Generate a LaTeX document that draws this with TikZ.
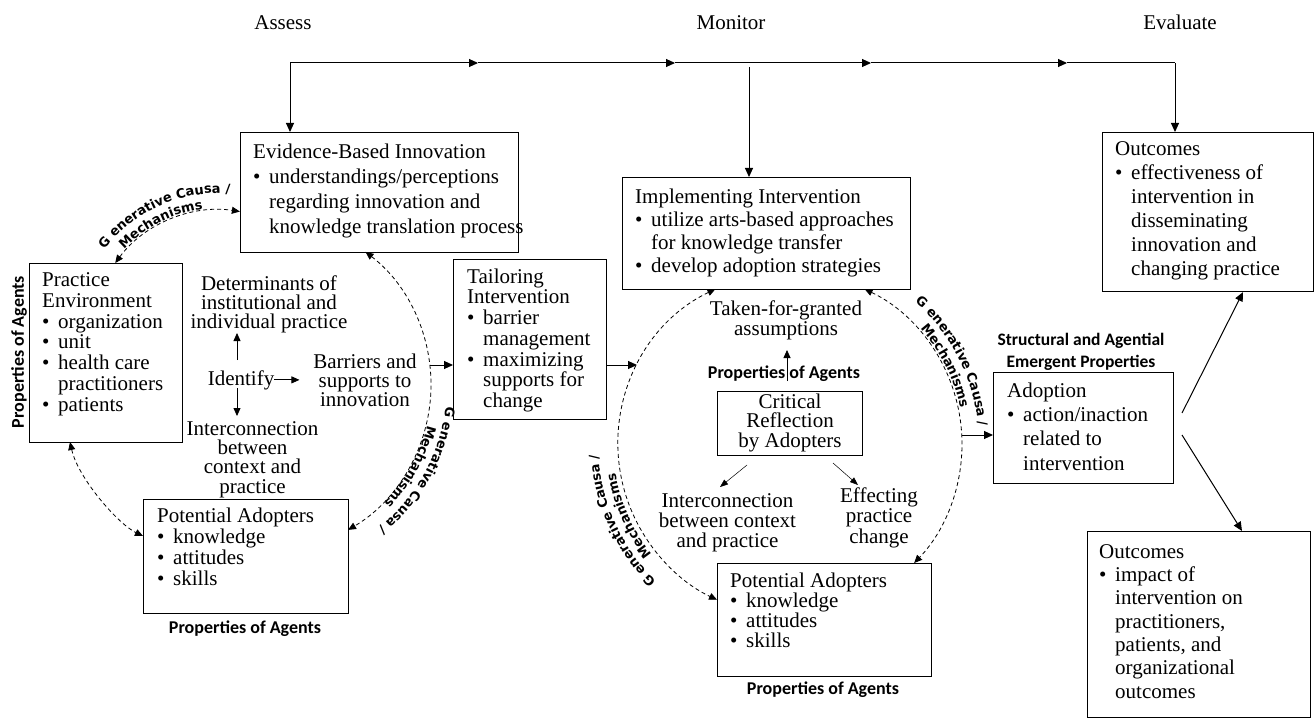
\documentclass[tikz,border=0pt]{standalone}
\usepackage{fontspec}
\setmainfont{Liberation Serif}
\newfontfamily\calfont{Carlito}
\newfontfamily\dvfont{DejaVu Sans}
\usetikzlibrary{arrows.meta,decorations.text}
\newcommand\bul{\makebox[16pt][l]{\textbullet}}
\newcommand\ind{\hspace*{16pt}}
\newcommand\fs[1]{\fontsize{21}{#1}\selectfont}
\newcommand\fr{\rule{0pt}{15pt}}
\newcommand\gfont{\dvfont\bfseries\fontsize{13}{15}\selectfont}
\begin{document}
\begin{tikzpicture}[x=1pt,y=-1pt,
  box/.style={draw, line width=1.1pt, inner sep=0pt, anchor=north west},
  txl/.style={anchor=north west, inner sep=0pt, align=left},
  txc/.style={anchor=north, inner sep=0pt, align=center},
  lab/.style={inner sep=0pt, font={\calfont\bfseries\fontsize{18}{22}\selectfont}},
  arr/.style={line width=1pt, -{Triangle[length=9pt,width=8pt]}},
  sarr/.style={line width=0.8pt, -{Triangle[length=8pt,width=7pt]}},
  tarr/.style={line width=0.5pt, -{Triangle[length=8pt,width=6pt]}},
  darr/.style={line width=0.8pt, dash pattern=on 4pt off 3pt, {Triangle[length=8pt,width=7pt]}-{Triangle[length=8pt,width=7pt]}},
  gtext/.style={decorate, decoration={text along path, text align=center, text={|\gfont|#1}}}
]
\fill[white] (0,0) rectangle (1316,719);
\useasboundingbox (0,0) rectangle (1316,719);

% ---------- top labels ----------
\node[anchor=base, inner sep=0pt, font=\fs{25}] (assess) at (283,30) {Assess};
\node[anchor=base, inner sep=0pt, font=\fs{25}] (monitor) at (731,30) {Monitor};
\node[anchor=base, inner sep=0pt, font=\fs{25}] (evaluate) at (1180,30) {Evaluate};

% ---------- boxes ----------
\node[box, minimum width=278pt, minimum height=120pt] (evid) at (240,132) {};
\node[box, minimum width=153pt, minimum height=179pt] (prac) at (29,263) {};
\node[box, minimum width=153pt, minimum height=160pt] (tail) at (453,259) {};
\node[box, minimum width=205pt, minimum height=114pt] (pa1) at (143,499) {};
\node[box, minimum width=288pt, minimum height=112pt] (impl) at (622,177) {};
\node[box, minimum width=145pt, minimum height=64pt] (crit) at (717,391) {};
\node[box, minimum width=214pt, minimum height=113pt] (pa2) at (717,563) {};
\node[box, minimum width=180pt, minimum height=111pt] (adop) at (993,372) {};
\node[box, minimum width=211pt, minimum height=159pt] (out1) at (1102,132) {};
\node[box, minimum width=223pt, minimum height=186pt] (out2) at (1087,531) {};

% ---------- box texts ----------
\node[txl, font=\fs{25}] (tevid) at (253,143) {\fr Evidence-Based Innovation\\\bul understandings/perceptions\\\ind regarding innovation and\\\ind knowledge translation process};
\node[txl, font=\fs{20.9}] (tprac) at (42,271) {\fr Practice\\Environment\\\bul organization\\\bul unit\\\bul health care\\\ind practitioners\\\bul patients};
\node[txl, font=\fs{20.7}] (ttail) at (467,268) {\fr Tailoring\\Intervention\\\bul barrier\\\ind management\\\bul maximizing\\\ind supports for\\\ind change};
\node[txl, font=\fs{21}] (tpa1) at (157,507) {\fr Potential Adopters\\\bul knowledge\\\bul attitudes\\\bul skills};
\node[txl, font=\fs{23}] (timpl) at (635,188) {\fr Implementing Intervention\\\bul utilize arts-based approaches\\\ind for knowledge transfer\\\bul develop adoption strategies};
\node[txc, font=\fs{19.5}] (tcrit) at (790,393) {\fr Critical\\Reflection\\by Adopters};
\node[txl, font=\fs{20}] (tpa2) at (730,572) {\fr Potential Adopters\\\bul knowledge\\\bul attitudes\\\bul skills};
\node[txl, font=\fs{24.3}] (tadop) at (1007,382) {\fr Adoption\\\bul action/inaction\\\ind related to\\\ind intervention};
\node[txl, font=\fs{24}] (tout1) at (1115,140) {\fr Outcomes\\\bul effectiveness of\\\ind intervention in\\\ind disseminating\\\ind innovation and\\\ind changing practice};
\node[txl, font=\fs{23.3}] (tout2) at (1099,543) {\fr Outcomes\\\bul impact of\\\ind intervention on\\\ind practitioners,\\\ind patients, and\\\ind organizational\\\ind outcomes};

% ---------- free texts ----------
\node[txc, font=\fs{19}] (det) at (269,275) {\fr Determinants of\\institutional and\\individual practice};
\node[anchor=base, inner sep=0pt, font=\fs{25}] (ident) at (241,385) {Identify};
\node[txc, font=\fs{19}] (barr) at (365,353) {\fr Barriers and\\supports to\\innovation};
\node[txc, font=\fs{19.3}] (inter1) at (252.5,420) {\fr Interconnection\\between\\context and\\practice};
\node[txc, font=\fs{20}] (taken) at (786,300) {\fr Taken-for-granted\\assumptions};
\node[txc, font=\fs{20}] (inter2) at (727.5,492) {\fr Interconnection\\between context\\and practice};
\node[txc, font=\fs{20.5}] (effect) at (879,487) {\fr Effecting\\practice\\change};

% ---------- bold sans labels ----------
\node[lab, rotate=90] (propL) at (19,352) {Properties of Agents};
\node[lab, anchor=base] (propB1) at (245,633) {Properties of Agents};
\node[lab, anchor=base] (propM) at (784,378) {Properties of Agents};
\node[lab, anchor=base] (propB2) at (823,694) {Properties of Agents};
\node[anchor=north, inner sep=0pt, align=center, font={\calfont\bfseries\fontsize{17.5}{22}\selectfont}] (struct) at (1081,331.5) {\rule{0pt}{14pt}Structural and Agential\\Emergent Properties};

% ---------- top flow line ----------
\coordinate (t0) at (290,63);
\coordinate (t1) at (478,63);
\coordinate (t2) at (675,63);
\coordinate (t3) at (871,63);
\coordinate (t4) at (1067,63);
\coordinate (t5) at (1175,63);
\coordinate (tm) at (749,67);
\draw[arr] (t0) -- (t1);
\draw[arr] (t1) -- (t2);
\draw[arr] (t2) -- (t3);
\draw[arr] (t3) -- (t4);
\draw[line width=1pt] (t4) -- (t5);
\draw[arr] (t0) -- (evid.north -| t0);
\draw[arr] (tm) -- (impl.north -| tm);
\draw[arr] (t5) -- (out1.north -| t5);

% ---------- identify arrows ----------
\coordinate (iu) at (237,360);
\coordinate (iut) at (237,333);
\coordinate (id) at (237,388);
\coordinate (idt) at (237,416);
\draw[sarr] (iu) -- (iut);
\draw[sarr] (id) -- (idt);
\draw[sarr] (ident.east) -- ++(25,0);

% ---------- solid connectors ----------
\coordinate (lc) at (430,365);
\coordinate (mcL) at (637,365);
\coordinate (mcR) at (962,435);
\draw[arr] (lc) -- (tail.west |- lc);
\draw[arr] (tail.east |- mcL) -- (mcL);
\draw[arr] (mcR) -- (adop.west |- mcR);
\coordinate (pa0) at (787,381);
\coordinate (pa1t) at (787,350);
\draw[sarr] (pa0) -- (pa1t);
\coordinate (cl0) at (747,465);
\coordinate (cl1) at (720,487);
\coordinate (cr0) at (833,463);
\coordinate (cr1) at (858,485);
\draw[tarr] (cl0) -- (cl1);
\draw[tarr] (cr0) -- (cr1);
\coordinate (ao1) at (1182,413);
\coordinate (ao2) at (1182,435);
\draw[arr] (ao1) -- (out1.south -| 1243,0);
\draw[arr] (ao2) -- (out2.north -| 1242,0);

% ---------- dashed arcs ----------
\draw[darr] ([shift={(220,340)}]216.3:130) arc[start angle=216.3, end angle=278.8, radius=130];
\draw[darr] ([shift={(263,385)}]-52.4:168) arc[start angle=-52.4, end angle=59.6, radius=168];
\draw[darr] ([shift={(790,444)}]244.3:172) arc[start angle=244.3, end angle=115.1, radius=172];
\draw[darr] ([shift={(790,444)}]-64.3:172) arc[start angle=-64.3, end angle=43.8, radius=172];
\coordinate (pp0) at (70,442);
\coordinate (pp1) at (143,536);
\draw[darr] (pp0) .. controls (78,478) and (118,524) .. (pp1);

% ---------- curved labels ----------
\path[gtext={G enerative Causa /}] ([shift={(220,340)}]206:147) arc[start angle=206, end angle=286, radius=147];
\path[gtext={Mechanisms}] ([shift={(220,340)}]213:132) arc[start angle=213, end angle=273, radius=132];
\path[gtext={G enerative Causa /}] ([shift={(263,385)}]-11:184) arc[start angle=-11, end angle=69, radius=184];
\path[gtext={Mechanisms}] ([shift={(263,385)}]-1:169) arc[start angle=-1, end angle=59, radius=169];
\path[gtext={G enerative Causa /}] ([shift={(790,444)}]-67:189) arc[start angle=-67, end angle=13, radius=189];
\path[gtext={Mechanisms}] ([shift={(790,444)}]-56.7:174) arc[start angle=-56.7, end angle=3.3, radius=174];
\path[gtext={G enerative Causa /}] ([shift={(790,444)}]115.5:192) arc[start angle=115.5, end angle=195.5, radius=192];
\path[gtext={Mechanisms}] ([shift={(790,444)}]126:177) arc[start angle=126, end angle=186, radius=177];
\end{tikzpicture}
\end{document}
